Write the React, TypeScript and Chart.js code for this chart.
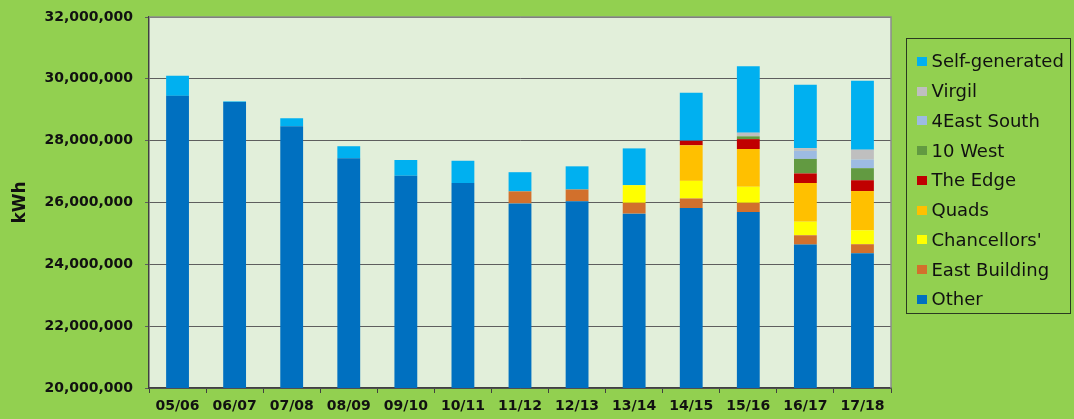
import React, { useEffect, useRef } from "react";
import { Chart, registerables } from "chart.js";

Chart.register(...registerables);

const categories = ["05/06", "06/07", "07/08", "08/09", "09/10", "10/11", "11/12", "12/13", "13/14", "14/15", "15/16", "16/17", "17/18"];

const other = [29450000, 29250000, 28465000, 27430000, 26865000, 26630000, 25970000, 26040000, 25640000, 25820000, 25690000, 24640000, 24360000];
const eastBuilding = [0, 0, 0, 0, 0, 0, 390000, 380000, 350000, 310000, 300000, 300000, 290000];
const chancellors = [0, 0, 0, 0, 0, 0, 0, 0, 570000, 570000, 520000, 440000, 450000];
const quads = [0, 0, 0, 0, 0, 0, 0, 0, 0, 1150000, 1220000, 1250000, 1270000];
const theEdge = [0, 0, 0, 0, 0, 0, 0, 0, 0, 150000, 320000, 310000, 350000];
const tenWest = [0, 0, 0, 0, 0, 0, 0, 0, 0, 0, 90000, 470000, 390000];
const fourEastSouth = [0, 0, 0, 0, 0, 0, 0, 0, 0, 0, 0, 260000, 280000];
const virgil = [0, 0, 0, 0, 0, 0, 0, 0, 0, 0, 120000, 90000, 320000];
const selfGenerated = [650000, 20000, 260000, 390000, 510000, 720000, 620000, 750000, 1190000, 1550000, 2150000, 2050000, 2230000];

const yTicks = [20000000, 22000000, 24000000, 26000000, 28000000, 30000000, 32000000];

const seriesNames = ["Other", "East Building", "Chancellors'", "Quads", "The Edge", "10 West", "4East South", "Virgil", "Self-generated"];
const seriesValues = [other, eastBuilding, chancellors, quads, theEdge, tenWest, fourEastSouth, virgil, selfGenerated];
const seriesColors = ["#0070C0", "#D2702C", "#FFFF00", "#FFC000", "#C00000", "#629A41", "#9DBBE2", "#BFBFBF", "#00B0F0"];

const FONT = "'DejaVu Sans', sans-serif";

const plotBg = {
  id: "plotBg",
  beforeDraw(chart: any) {
    const { ctx, chartArea } = chart;
    ctx.save();
    ctx.fillStyle = "#E2EFDA";
    ctx.fillRect(chartArea.left, chartArea.top, chartArea.right - chartArea.left, chartArea.bottom - chartArea.top);
    ctx.restore();
  },
  afterDraw(chart: any) {
    const { ctx, chartArea } = chart;
    ctx.save();
    ctx.strokeStyle = "#8C8C8C";
    ctx.lineWidth = 1.5;
    ctx.beginPath();
    ctx.moveTo(chartArea.left, chartArea.top);
    ctx.lineTo(chartArea.right, chartArea.top);
    ctx.lineTo(chartArea.right, chartArea.bottom);
    ctx.stroke();
    ctx.restore();
  },
};

export default function App() {
  const canvasRef = useRef<HTMLCanvasElement | null>(null);

  useEffect(() => {
    document.body.style.margin = "0";
    const canvas = canvasRef.current;
    if (!canvas) return;
    const chart = new Chart(canvas, {
      type: "bar",
      data: {
        labels: categories,
        datasets: seriesNames.map((name, i) => ({
          label: name,
          data: seriesValues[i],
          backgroundColor: seriesColors[i],
          borderWidth: 0,
          barPercentage: 0.4,
          categoryPercentage: 1,
        })),
      },
      options: {
        animation: false,
        responsive: false,
        maintainAspectRatio: false,
        layout: { padding: { top: 17, right: 183, left: 0, bottom: 0 } },
        plugins: {
          legend: { display: false },
          tooltip: { enabled: false },
        },
        scales: {
          x: {
            stacked: true,
            grid: {
              offset: true,
              drawOnChartArea: false,
              drawTicks: true,
              tickLength: 5,
              color: "#404040",
            },
            border: { display: true, color: "#404040", width: 1.5 },
            ticks: {
              color: "#111111",
              font: { family: FONT, size: 14, weight: "bold" },
              padding: 5,
              maxRotation: 0,
              autoSkip: false,
            },
            afterFit(scale: any) {
              scale.height = 31;
              scale.paddingLeft = 0;
              scale.paddingRight = 0;
            },
          },
          y: {
            stacked: true,
            min: 20000000,
            max: 32000000,
            afterBuildTicks(scale: any) {
              scale.ticks = yTicks.map((v) => ({ value: v }));
            },
            grid: {
              color: "#5E5E5E",
              lineWidth: 1,
              drawTicks: true,
              tickLength: 4,
            },
            border: { display: true, color: "#404040", width: 1.5 },
            ticks: {
              color: "#111111",
              font: { family: FONT, size: 14, weight: "bold" },
              padding: 12,
              callback: (v: any) => Number(v).toLocaleString("en-US"),
            },
            title: {
              display: true,
              text: "kWh",
              color: "#111111",
              font: { family: FONT, size: 17, weight: "bold" },
              padding: { top: 10, bottom: 0 },
            },
            afterFit(scale: any) {
              scale.width = 149;
              scale.paddingTop = 0;
              scale.paddingBottom = 0;
            },
          },
        },
      },
      plugins: [plotBg],
    });
    return () => chart.destroy();
  }, []);

  const legendOrder = seriesNames.map((n, i) => i).reverse();

  return (
    <div style={{ position: "fixed", left: 0, top: 0, width: 1074, height: 419, background: "#92D050", overflow: "hidden" }}>
      <canvas ref={canvasRef} width={1074} height={419} style={{ position: "absolute", left: 0, top: 0, width: 1074, height: 419 }} />
      <div
        style={{
          position: "absolute",
          left: 906,
          top: 38,
          width: 165,
          height: 276,
          border: "1.5px solid #2A3A20",
          boxSizing: "border-box",
          fontFamily: FONT,
          fontSize: 18,
          color: "#111111",
        }}
      >
        {legendOrder.map((i, k) => (
          <div
            key={seriesNames[i]}
            style={{
              position: "absolute",
              left: 0,
              top: 22.3 - 11 + k * 29.76,
              height: 22,
              display: "flex",
              alignItems: "center",
              whiteSpace: "nowrap",
            }}
          >
            <span style={{ display: "inline-block", width: 10, height: 9, background: seriesColors[i], marginLeft: 9.5, marginRight: 5 }} />
            <span style={{ lineHeight: "22px" }}>{seriesNames[i]}</span>
          </div>
        ))}
      </div>
    </div>
  );
}
